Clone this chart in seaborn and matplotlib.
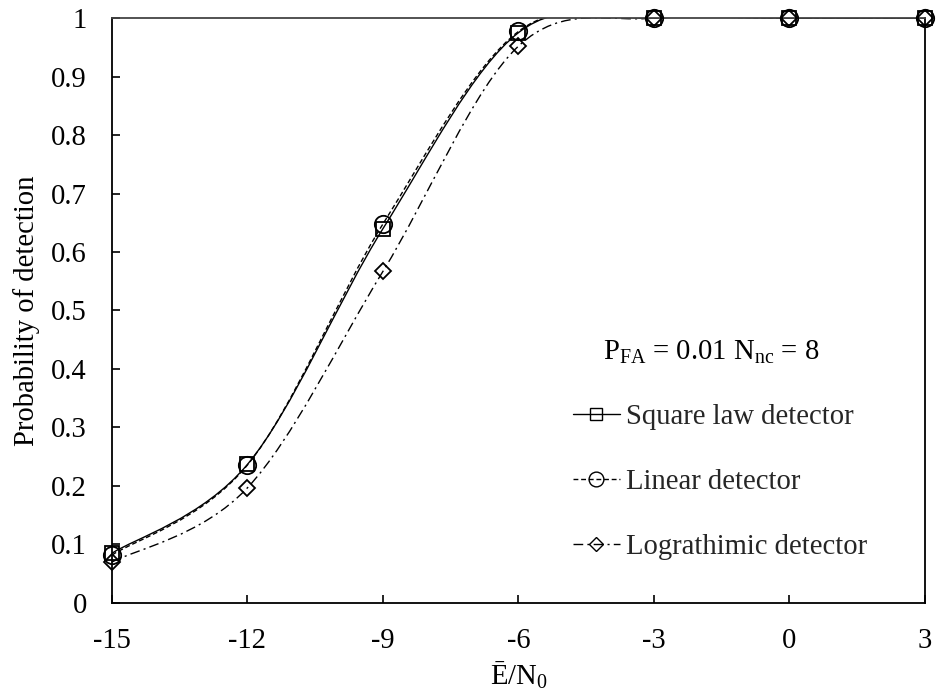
import numpy as np
import seaborn as sns
import matplotlib
matplotlib.use('Agg')
from matplotlib import pyplot as plt
from matplotlib.path import Path
from matplotlib.patches import PathPatch
from matplotlib.lines import Line2D
from matplotlib.ticker import FuncFormatter

# data
snr_db = [-15, -12, -9, -6, -3, 0, 3]
pd_square = [0.085, 0.237, 0.640, 0.975, 1.0, 1.0, 1.0]
pd_linear = [0.082, 0.236, 0.648, 0.977, 1.0, 1.0, 1.0]
pd_log = [0.070, 0.197, 0.567, 0.952, 1.0, 1.0, 1.0]
labels = ['Square law detector', 'Linear detector', 'Lograthimic detector']

sns.set_theme(style='white')
plt.rcParams['font.family'] = ['Liberation Serif', 'DejaVu Serif']
plt.rcParams['mathtext.fontset'] = 'custom'
plt.rcParams['mathtext.rm'] = 'Liberation Serif'
plt.rcParams['mathtext.it'] = 'Liberation Serif:italic'
plt.rcParams['mathtext.default'] = 'regular'
plt.rcParams['axes.unicode_minus'] = False

FS = 20.6


def smooth_path(x, y):
    """Excel-style smoothed line: cubic bezier through the points."""
    pts = np.column_stack([x, y]).astype(float)
    ext = np.vstack([pts[0], pts, pts[-1]])
    verts = [pts[0]]
    codes = [Path.MOVETO]
    for i in range(1, len(ext) - 2):
        p0, p1, p2, p3 = ext[i - 1], ext[i], ext[i + 1], ext[i + 2]
        c1 = p1 + (p2 - p0) / 6.0
        c2 = p2 - (p3 - p1) / 6.0
        verts += [c1, c2, p2]
        codes += [Path.CURVE4] * 3
    return Path(verts, codes)


fig, ax = plt.subplots(figsize=(9.38, 6.93), dpi=100)
fig.subplots_adjust(left=0.1194, right=0.9861, top=0.974, bottom=0.1299)

series = [
    (pd_square, 's', 10, '-'),
    (pd_linear, 'o', 12.5, (0, (3.5, 2))),
    (pd_log, 'D', 8.5, (0, (7, 3, 1.5, 3))),
]

handles = []
for (vals, mk, ms, ls), lab in zip(series, labels):
    patch = PathPatch(smooth_path(snr_db, vals), facecolor='none',
                      edgecolor='black', lw=1.0, linestyle=ls, zorder=2)
    ax.add_patch(patch)
    sns.lineplot(x=snr_db, y=vals, ax=ax, marker=mk, linestyle='',
                 color='black', mfc='none', mec='black', ms=ms, mew=1.3,
                 zorder=3, clip_on=False)
    handles.append(Line2D([], [], color='black', lw=1.0, linestyle=ls,
                          marker=mk, mfc='none', mec='black',
                          ms=ms * 0.85, mew=1.0))

ax.set_xlim(-15, 3)
ax.set_ylim(0, 1)
ax.set_xticks(np.arange(-15, 4, 3))
ax.set_yticks(np.arange(0, 1.01, 0.1))
ax.yaxis.set_major_formatter(FuncFormatter(lambda v, p: f'{v:.1f}'.rstrip('0').rstrip('.') if v else '0'))
ax.xaxis.set_major_formatter(FuncFormatter(lambda v, p: f'{v:.0f}'))

ax.tick_params(axis='both', direction='in', length=6, width=1.2,
               labelsize=FS, colors='black', pad=18)
ax.tick_params(top=False, right=False, left=True, bottom=True)
for s in ax.spines.values():
    s.set_color('black')
    s.set_linewidth(1.3)
ax.spines['top'].set_color('#444444')

ax.set_xlabel('Ē/N$_0$', fontsize=FS, color='black', labelpad=4)
ax.set_ylabel('Probability of detection', fontsize=FS, color='black', labelpad=8)

ax.text(0.737, 0.428, 'P$_{FA}$ = 0.01 N$_{nc}$ = 8', transform=ax.transAxes,
        fontsize=FS, ha='center', va='center', color='black')

ax.legend(handles, labels, loc='upper left', bbox_to_anchor=(0.553, 0.359),
          frameon=False, fontsize=FS, handlelength=1.64, handletextpad=0.21,
          labelspacing=1.36, borderaxespad=0)

fig.savefig('out.png', dpi=100)
